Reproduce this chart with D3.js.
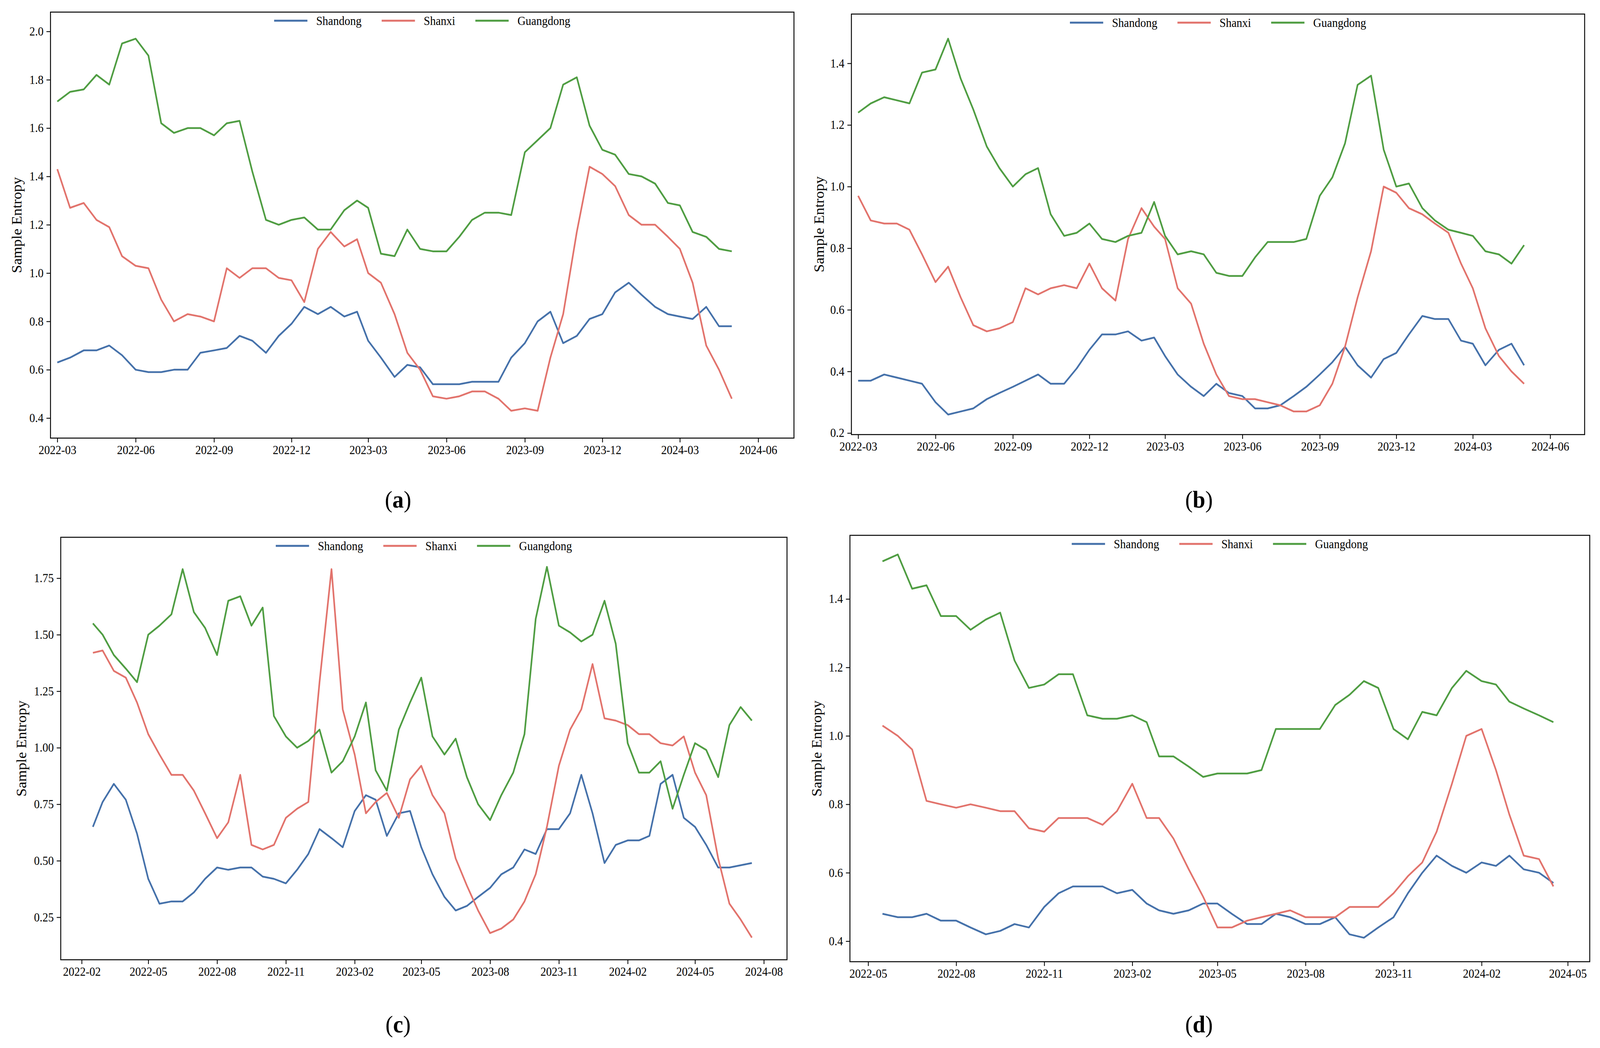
<!DOCTYPE html>
<html><head><meta charset="utf-8">
<script src="https://cdn.jsdelivr.net/npm/d3@7"></script>
<style>html,body{margin:0;padding:0;background:#fff;overflow:hidden}svg{display:block}svg text{font-family:"Liberation Serif","DejaVu Serif",serif}</style>
</head><body>
<svg id="c" viewBox="0 0 4373 2684" preserveAspectRatio="none" style="width:100vw;height:100vh"></svg>
<script>
const seriesNames = ["Shandong","Shanxi","Guangdong"];
const colors = ["#4571aa","#e2736c","#4f9d42"];

// semi-monthly samples (1st and 16th of each month)
const aStart = [2022,3,0];
const aShandong = [0.63,0.65,0.68,0.68,0.70,0.66,0.60,0.59,0.59,0.60,0.60,0.67,0.68,0.69,0.74,0.72,0.67,0.74,0.79,0.86,0.83,0.86,0.82,0.84,0.72,0.65,0.57,0.62,0.61,0.54,0.54,0.54,0.55,0.55,0.55,0.65,0.71,0.80,0.84,0.71,0.74,0.81,0.83,0.92,0.96,0.91,0.86,0.83,0.82,0.81,0.86,0.78,0.78];
const aShanxi = [1.43,1.27,1.29,1.22,1.19,1.07,1.03,1.02,0.89,0.80,0.83,0.82,0.80,1.02,0.98,1.02,1.02,0.98,0.97,0.88,1.10,1.17,1.11,1.14,1.00,0.96,0.83,0.67,0.60,0.49,0.48,0.49,0.51,0.51,0.48,0.43,0.44,0.43,0.65,0.83,1.17,1.44,1.41,1.36,1.24,1.20,1.20,1.15,1.10,0.96,0.70,0.60,0.48];
const aGuangdong = [1.71,1.75,1.76,1.82,1.78,1.95,1.97,1.90,1.62,1.58,1.60,1.60,1.57,1.62,1.63,1.42,1.22,1.20,1.22,1.23,1.18,1.18,1.26,1.30,1.27,1.08,1.07,1.18,1.10,1.09,1.09,1.15,1.22,1.25,1.25,1.24,1.50,1.55,1.60,1.78,1.81,1.61,1.51,1.49,1.41,1.40,1.37,1.29,1.28,1.17,1.15,1.10,1.09];

const bStart = [2022,3,0];
const bShandong = [0.37,0.37,0.39,0.38,0.37,0.36,0.30,0.26,0.27,0.28,0.31,0.33,0.35,0.37,0.39,0.36,0.36,0.41,0.47,0.52,0.52,0.53,0.50,0.51,0.45,0.39,0.35,0.32,0.36,0.33,0.32,0.28,0.28,0.29,0.32,0.35,0.39,0.43,0.48,0.42,0.38,0.44,0.46,0.52,0.58,0.57,0.57,0.50,0.49,0.42,0.47,0.49,0.42];
const bShanxi = [0.97,0.89,0.88,0.88,0.86,0.78,0.69,0.74,0.64,0.55,0.53,0.54,0.56,0.67,0.65,0.67,0.68,0.67,0.75,0.67,0.63,0.83,0.93,0.87,0.83,0.67,0.62,0.49,0.39,0.32,0.31,0.31,0.30,0.29,0.27,0.27,0.29,0.36,0.48,0.64,0.79,1.00,0.98,0.93,0.91,0.88,0.85,0.75,0.67,0.54,0.45,0.40,0.36];
const bGuangdong = [1.24,1.27,1.29,1.28,1.27,1.37,1.38,1.48,1.35,1.25,1.13,1.06,1.00,1.04,1.06,0.91,0.84,0.85,0.88,0.83,0.82,0.84,0.85,0.95,0.84,0.78,0.79,0.78,0.72,0.71,0.71,0.77,0.82,0.82,0.82,0.83,0.97,1.03,1.14,1.33,1.36,1.12,1.00,1.01,0.93,0.89,0.86,0.85,0.84,0.79,0.78,0.75,0.81];

const cStart = [2022,2,1];
const cShandong = [0.65,0.76,0.84,0.77,0.62,0.42,0.31,0.32,0.32,0.36,0.42,0.47,0.46,0.47,0.47,0.43,0.42,0.40,0.46,0.53,0.64,0.60,0.56,0.72,0.79,0.77,0.61,0.71,0.72,0.56,0.44,0.34,0.28,0.30,0.34,0.38,0.44,0.47,0.55,0.53,0.64,0.64,0.71,0.88,0.71,0.49,0.57,0.59,0.59,0.61,0.84,0.88,0.69,0.65,0.57,0.47,0.47,0.48,0.49];
const cShanxi = [1.42,1.43,1.34,1.31,1.20,1.06,0.97,0.88,0.88,0.81,0.71,0.60,0.67,0.88,0.57,0.55,0.57,0.69,0.73,0.76,1.29,1.79,1.17,0.97,0.71,0.76,0.80,0.69,0.86,0.92,0.79,0.71,0.51,0.39,0.28,0.18,0.20,0.24,0.32,0.44,0.65,0.92,1.08,1.17,1.37,1.13,1.12,1.10,1.06,1.06,1.02,1.01,1.05,0.89,0.79,0.51,0.31,0.24,0.16];
const cGuangdong = [1.55,1.50,1.41,1.35,1.29,1.50,1.54,1.59,1.79,1.60,1.53,1.41,1.65,1.67,1.54,1.62,1.14,1.05,1.00,1.03,1.08,0.89,0.94,1.05,1.20,0.90,0.81,1.08,1.20,1.31,1.05,0.97,1.04,0.87,0.75,0.68,0.79,0.89,1.06,1.57,1.80,1.54,1.51,1.47,1.50,1.65,1.46,1.02,0.89,0.89,0.94,0.73,0.88,1.02,0.99,0.87,1.10,1.18,1.12];

const dStart = [2022,5,1];
const dShandong = [0.48,0.47,0.47,0.48,0.46,0.46,0.44,0.42,0.43,0.45,0.44,0.50,0.54,0.56,0.56,0.56,0.54,0.55,0.51,0.49,0.48,0.49,0.51,0.51,0.48,0.45,0.45,0.48,0.47,0.45,0.45,0.47,0.42,0.41,0.44,0.47,0.54,0.60,0.65,0.62,0.60,0.63,0.62,0.65,0.61,0.60,0.57];
const dShanxi = [1.03,1.00,0.96,0.81,0.80,0.79,0.80,0.79,0.78,0.78,0.73,0.72,0.76,0.76,0.76,0.74,0.78,0.86,0.76,0.76,0.70,0.61,0.53,0.44,0.44,0.46,0.47,0.48,0.49,0.47,0.47,0.47,0.50,0.50,0.50,0.54,0.59,0.63,0.72,0.86,1.00,1.02,0.90,0.77,0.65,0.64,0.56];
const dGuangdong = [1.51,1.53,1.43,1.44,1.35,1.35,1.31,1.34,1.36,1.22,1.14,1.15,1.18,1.18,1.06,1.05,1.05,1.06,1.04,0.94,0.94,0.91,0.88,0.89,0.89,0.89,0.90,1.02,1.02,1.02,1.02,1.09,1.12,1.16,1.14,1.02,0.99,1.07,1.06,1.14,1.19,1.16,1.15,1.10,1.08,1.06,1.04];

const aYTicks = [0.4,0.6,0.8,1.0,1.2,1.4,1.6,1.8,2.0];
const bYTicks = [0.2,0.4,0.6,0.8,1.0,1.2,1.4];
const cYTicks = [0.25,0.50,0.75,1.00,1.25,1.50,1.75];
const dYTicks = [0.4,0.6,0.8,1.0,1.2,1.4];

function halfMonth(st,i){const h=st[2]+i;return new Date(st[0],st[1]-1+Math.floor(h/2),h%2?16:1);}

const panels = [
 {lab:"a",box:[138,31,2170,1122],xd:[new Date(2022,1,21),new Date(2024,6,13)],yd:[0.317,2.08],yt:aYTicks,fmt:d3.format(".1f"),tick0:new Date(2022,2,1),st:aStart,data:[aShandong,aShanxi,aGuangdong],ylx:46,lx:1088,ly:1278},
 {lab:"b",box:[2327,36,4331,1113],xd:[new Date(2022,1,21),new Date(2024,6,12)],yd:[0.195,1.56],yt:bYTicks,fmt:d3.format(".1f"),tick0:new Date(2022,2,1),st:bStart,data:[bShandong,bShanxi,bGuangdong],ylx:2239,lx:3277,ly:1278},
 {lab:"c",box:[166,1376,2151,2458],xd:[new Date(2022,0,4),new Date(2024,8,1)],yd:[0.062,1.931],yt:cYTicks,fmt:d3.format(".2f"),tick0:new Date(2022,1,1),st:cStart,data:[cShandong,cShanxi,cGuangdong],ylx:59,lx:1088,ly:2622},
 {lab:"d",box:[2323,1371,4345,2463],xd:[new Date(2022,3,12),new Date(2024,4,24)],yd:[0.34,1.586],yt:dYTicks,fmt:d3.format(".1f"),tick0:new Date(2022,4,1),st:dStart,data:[dShandong,dShanxi,dGuangdong],ylx:2232,lx:3277,ly:2622}
];

const svg = d3.select("#c");
panels.forEach(p=>{
  const [l,t,r,b]=p.box;
  const x=d3.scaleTime().domain(p.xd).range([l,r]);
  const y=d3.scaleLinear().domain(p.yd).range([b,t]);
  const g=svg.append("g");
  const xt=d3.timeMonth.range(p.tick0,p.xd[1],3);
  const xa=g.append("g").attr("transform",`translate(0,${b})`).call(d3.axisBottom(x).tickValues(xt).tickFormat(d3.timeFormat("%Y-%m")).tickSize(11).tickPadding(8));
  const ya=g.append("g").attr("transform",`translate(${l},0)`).call(d3.axisLeft(y).tickValues(p.yt).tickFormat(p.fmt).tickSize(11).tickPadding(8));
  [xa,ya].forEach(a=>{a.select(".domain").remove();a.selectAll("line").attr("stroke","#000").attr("stroke-width",2.2);a.selectAll("text").attr("font-size",31).attr("fill","#000").attr("font-family","Liberation Serif");});
  const line=d3.line().x((v,i)=>x(halfMonth(p.st,i))).y(v=>y(v));
  p.data.forEach((s,k)=>{g.append("path").datum(s).attr("d",line).attr("fill","none").attr("stroke",colors[k]).attr("stroke-width",4.5).attr("stroke-linejoin","round");});
  g.append("rect").attr("x",l).attr("y",t).attr("width",r-l).attr("height",b-t).attr("fill","none").attr("stroke","#000").attr("stroke-width",2.5);
  g.append("text").attr("transform",`translate(${p.ylx},${(t+b)/2}) rotate(-90)`).attr("text-anchor","middle").attr("dominant-baseline","central").attr("font-size",38).text("Sample Entropy");
  const lg=g.append("g");let cx=0;
  seriesNames.forEach((n,k)=>{
    lg.append("line").attr("x1",cx).attr("x2",cx+91).attr("y1",0).attr("y2",0).attr("stroke",colors[k]).attr("stroke-width",5);
    const tx=lg.append("text").attr("x",cx+115).attr("y",0).attr("dominant-baseline","central").attr("font-size",31).text(n);
    cx+=115+tx.node().getComputedTextLength()+55;
  });
  cx-=55;
  lg.attr("transform",`translate(${(l+r)/2-cx/2},${t+22})`);
  const pl=g.append("text").attr("x",p.lx).attr("y",p.ly).attr("text-anchor","middle").attr("dominant-baseline","central").attr("font-size",62);
  pl.append("tspan").text("(");pl.append("tspan").attr("font-weight","bold").text(p.lab);pl.append("tspan").text(")");
});
</script>
</body></html>
